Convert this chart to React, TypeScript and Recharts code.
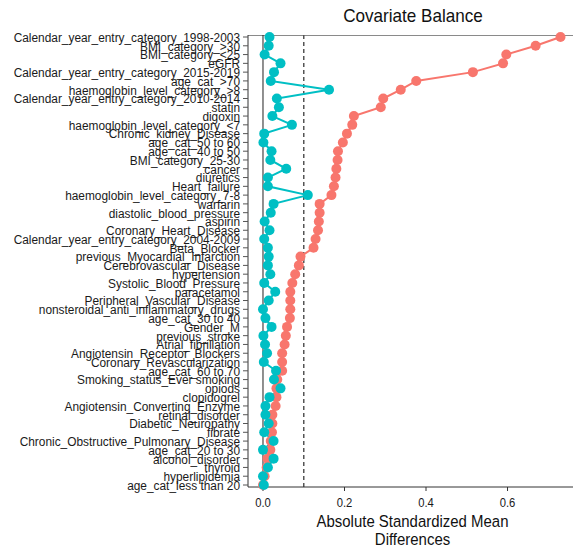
import { Label, Line, LineChart, ReferenceLine, XAxis, YAxis } from 'recharts';

const covariates = [
    'Calendar_year_entry_category_1998-2003',
    'BMI_category_>30',
    'BMI_category_<25',
    'eGFR',
    'Calendar_year_entry_category_2015-2019',
    'age_cat_>70',
    'haemoglobin_level_category_>8',
    'Calendar_year_entry_category_2010-2014',
    'statin',
    'digoxin',
    'haemoglobin_level_category_<7',
    'Chronic_kidney_Disease',
    'age_cat_50 to 60',
    'age_cat_40 to 50',
    'BMI_category_25-30',
    'cancer',
    'diuretics',
    'Heart_failure',
    'haemoglobin_level_category_7-8',
    'warfarin',
    'diastolic_blood_pressure',
    'aspirin',
    'Coronary_Heart_Disease',
    'Calendar_year_entry_category_2004-2009',
    'Beta_Blocker',
    'previous_Myocardial_Infarction',
    'Cerebrovascular_Disease',
    'hypertension',
    'Systolic_Blood_Pressure',
    'paracetamol',
    'Peripheral_Vascular_Disease',
    'nonsteroidal_anti_inflammatory_drugs',
    'age_cat_30 to 40',
    'Gender_M',
    'previous_stroke',
    'Atrial_fibrillation',
    'Angiotensin_Receptor_Blockers',
    'Coronary_Revascularization',
    'age_cat_60 to 70',
    'Smoking_status_Ever smoking',
    'opiods',
    'clopidogrel',
    'Angiotensin_Converting_Enzyme',
    'retinal_disorder',
    'Diabetic_Neuropathy',
    'fibrate',
    'Chronic_Obstructive_Pulmonary_Disease',
    'age_cat_20 to 30',
    'alcohol_disorder',
    'thyroid',
    'hyperlipidemia',
    'age_cat_less than 20',
];

const unadjusted = [
    0.730, 0.669, 0.597, 0.589, 0.515, 0.376, 0.338, 0.295, 0.289, 0.223,
    0.219, 0.206, 0.196, 0.184, 0.183, 0.180, 0.178, 0.174, 0.168, 0.139,
    0.139, 0.137, 0.135, 0.129, 0.124, 0.092, 0.088, 0.079, 0.072, 0.067,
    0.067, 0.067, 0.066, 0.059, 0.056, 0.053, 0.047, 0.047, 0.047, 0.035,
    0.033, 0.033, 0.031, 0.023, 0.023, 0.022, 0.019, 0.018, 0.011, 0.009,
    0.004, 0.000,
];

const adjusted = [
    0.016, 0.014, 0.004, 0.043, 0.027, 0.019, 0.162, 0.034, 0.039, 0.023,
    0.071, 0.003, 0.001, 0.021, 0.018, 0.057, 0.012, 0.012, 0.110, 0.026,
    0.019, 0.004, 0.016, 0.003, 0.012, 0.014, 0.012, 0.018, 0.003, 0.030,
    0.014, 0.000, 0.006, 0.021, 0.001, 0.005, 0.010, 0.002, 0.032, 0.027,
    0.043, 0.016, 0.006, 0.006, 0.014, 0.003, 0.026, 0.000, 0.026, 0.012,
    0.000, 0.002,
];

const xTicks = [0, 0.2, 0.4, 0.6];

const rows = covariates.map((name, i) => ({ name, unadjusted: unadjusted[i], adjusted: adjusted[i] }));

const FONT = '"Liberation Sans", Arial, sans-serif';
const RED = '#F8766D';
const TEAL = '#00BFC4';

function YTick(props: any) {
    const { x, y, payload } = props;
    return <g transform={`translate(${x},${y}) scale(0.88,1)`}>
        <text x={0} y={0} dy="0.36em" textAnchor="end" fontSize={13.5} fontFamily={FONT} fill="#1a1a1a">{payload.value}</text>
    </g>
}

function XTick(props: any) {
    const { x, y, payload } = props;
    return <g transform={`translate(${x},${y + 14}) scale(0.9,1)`}>
        <text x={0} y={0} textAnchor="middle" fontSize={12.5} fontFamily={FONT} fill="#1a1a1a">{Number(payload.value).toFixed(1)}</text>
    </g>
}

function XTitle(props: any) {
    const vb = props.viewBox || { x: 248, y: 487, width: 329 };
    const cx = vb.x + vb.width / 2;
    return <g transform={`translate(${cx},${vb.y}) scale(0.88,1)`} fontFamily={FONT} fontSize={17} fill="#111">
        <text x={0} y={40} textAnchor="middle">Absolute Standardized Mean</text>
        <text x={0} y={58} textAnchor="middle">Differences</text>
    </g>
}

export default function App() {
    return <div style={{ position: 'absolute', left: 0, top: 0, width: 573, height: 550, overflow: 'hidden', background: '#fff', fontFamily: FONT }}>
        <div style={{ position: 'absolute', left: 412.5, top: 6, transform: 'translateX(-50%) scaleX(0.9)', whiteSpace: 'nowrap', fontSize: 19, lineHeight: '19px', color: '#111' }}>
            Covariate Balance
        </div>
        <div style={{ position: 'absolute', left: 248, top: 35, width: 330, height: 1, background: '#8a8a8a' }} />
        <LineChart layout="vertical" width={577} height={550} data={rows} margin={{ top: 35, right: 0, bottom: 0, left: 0 }}>
            <XAxis type="number" domain={[-0.0368, 0.7705]} ticks={xTicks} allowDataOverflow height={63}
                tick={<XTick />} tickSize={4} tickMargin={2} axisLine={{ stroke: '#333' }} tickLine={{ stroke: '#333' }}>
                <Label content={XTitle} />
            </XAxis>
            <YAxis type="category" dataKey="name" width={248} interval={0} padding={{ top: 2, bottom: 2 }}
                tick={<YTick />} tickSize={5} tickMargin={3} axisLine={{ stroke: '#333' }} tickLine={{ stroke: '#555' }} />
            <ReferenceLine x={0} stroke="#222" />
            <ReferenceLine x={0.1} stroke="#555" strokeDasharray="4 3" strokeWidth={1.5} />
            <Line type="linear" dataKey="unadjusted" stroke={RED} strokeWidth={2} isAnimationActive={false}
                dot={{ r: 5, fill: RED, stroke: RED, strokeWidth: 0 }} activeDot={false} />
            <Line type="linear" dataKey="adjusted" stroke={TEAL} strokeWidth={2} isAnimationActive={false}
                dot={{ r: 5, fill: TEAL, stroke: TEAL, strokeWidth: 0 }} activeDot={false} />
        </LineChart>
    </div>
}
